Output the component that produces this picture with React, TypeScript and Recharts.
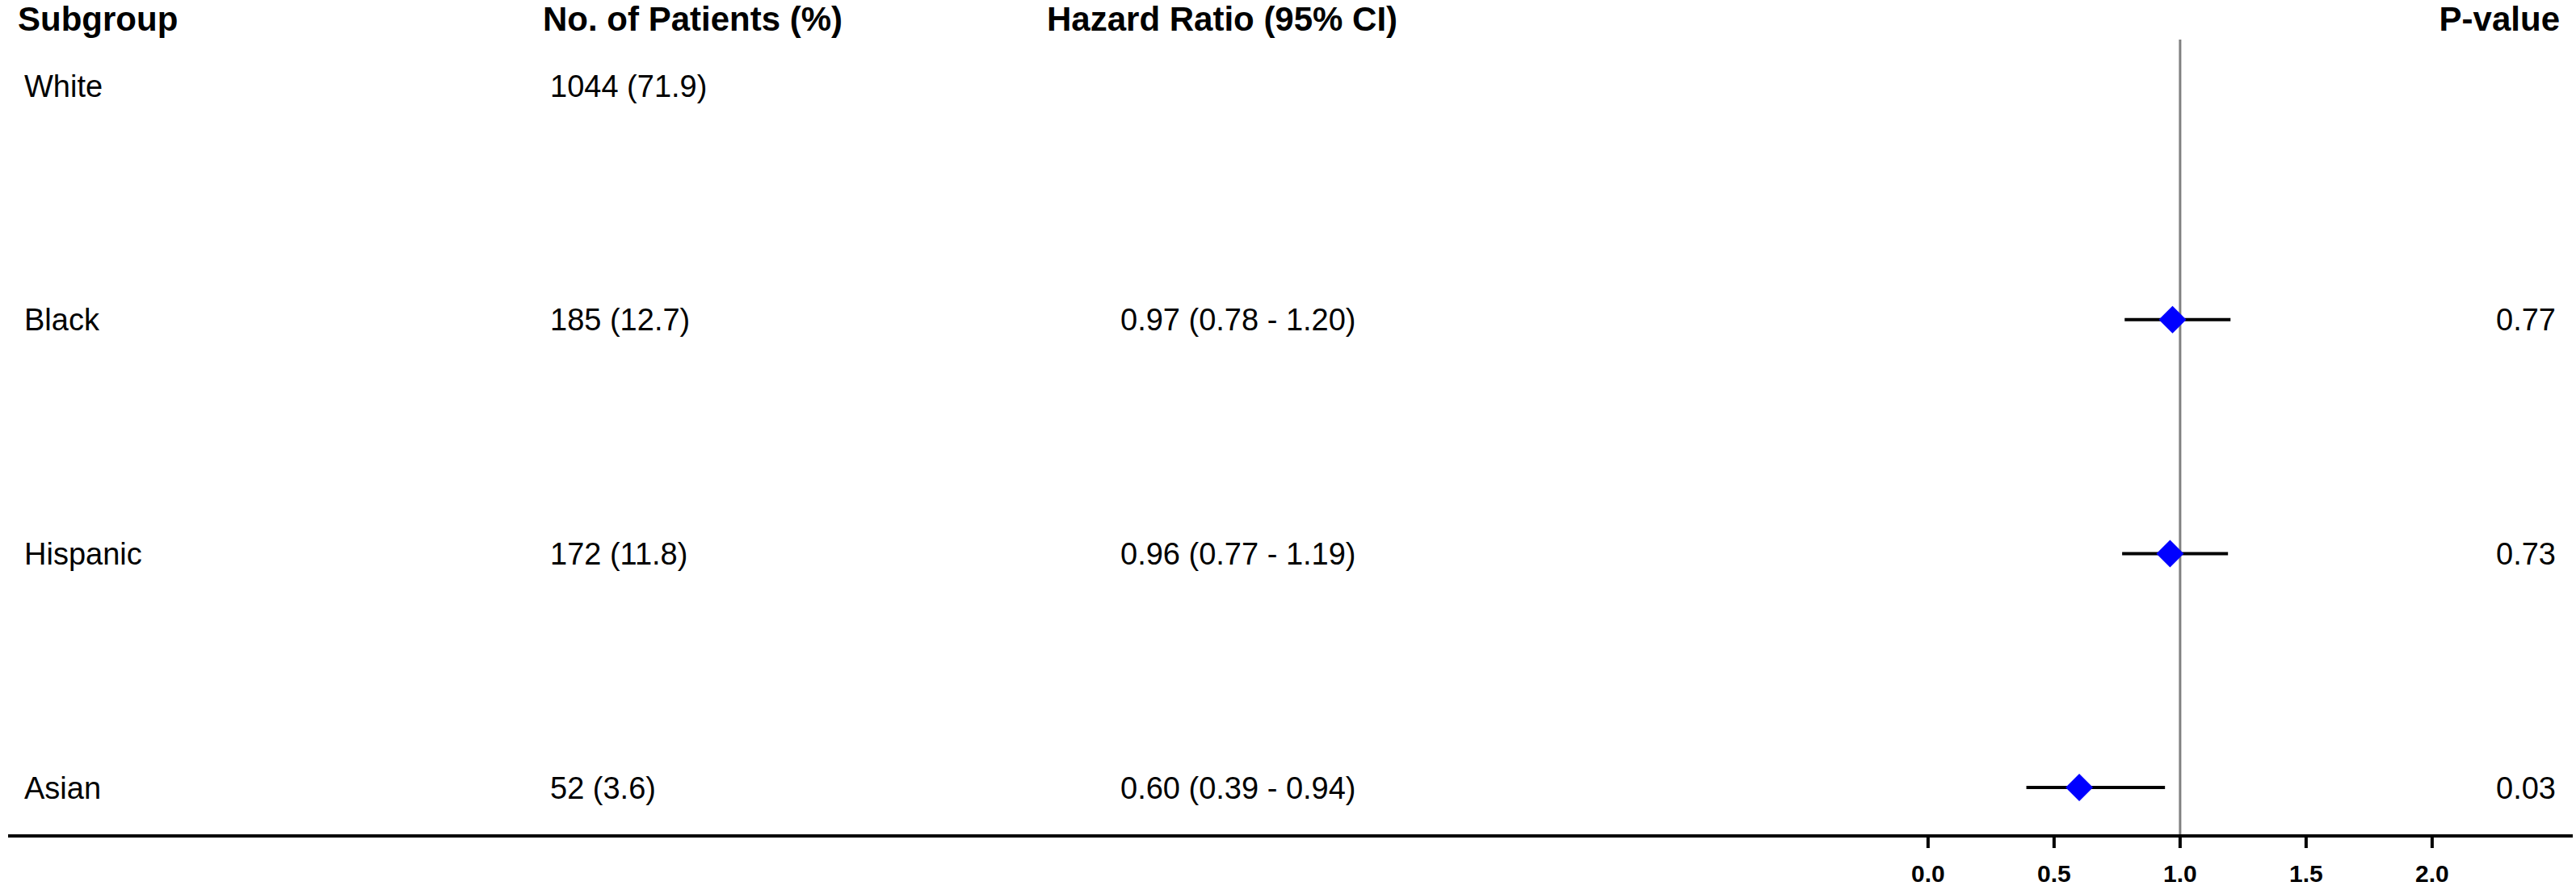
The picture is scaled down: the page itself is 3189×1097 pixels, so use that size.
import {
  ErrorBar,
  ReferenceLine,
  Scatter,
  ScatterChart,
  XAxis,
  YAxis,
} from "recharts";

const subgroups = ["White", "Black", "Hispanic", "Asian"];
const patientCounts = [1044, 185, 172, 52];
const patientPct = [71.9, 12.7, 11.8, 3.6];
const hazardRatios: (number | null)[] = [null, 0.97, 0.96, 0.6];
const ciLow: (number | null)[] = [null, 0.78, 0.77, 0.39];
const ciHigh: (number | null)[] = [null, 1.2, 1.19, 0.94];
const pValues: (string | null)[] = [null, "0.77", "0.73", "0.03"];
const rowTicks = [0, 1, 2, 3];
const xTicks = [0, 0.5, 1, 1.5, 2];
const headers = ["Subgroup", "No. of Patients (%)", "Hazard Ratio (95% CI)", "P-value"];

const W = 3189;
const H = 1097;
const FONT = "Arial, 'Liberation Sans', sans-serif";
// pixel columns for the table text
const COL_LABEL = 30;
const COL_PATIENTS = 681;
const COL_HR = 1387;
const COL_P_END = 3164;

const points = hazardRatios
  .map((hr, i) =>
    hr == null
      ? null
      : {
          row: i,
          hr,
          err: [hr - (ciLow[i] as number), (ciHigh[i] as number) - hr],
        }
  )
  .filter(Boolean);

function fmtHr(i: number) {
  const hr = hazardRatios[i];
  if (hr == null) return "";
  return `${hr.toFixed(2)} (${(ciLow[i] as number).toFixed(2)} - ${(ciHigh[i] as number).toFixed(2)})`;
}

function renderRowTick(props: any) {
  const { y, payload } = props;
  const i = Math.round(payload.value as number);
  const common = { y, dy: "0.355em", fontSize: 38, fill: "#000", fontFamily: FONT };
  return (
    <g key={`row-${i}`}>
      <text x={COL_LABEL} {...common}>{subgroups[i]}</text>
      <text x={COL_PATIENTS} {...common}>
        {`${patientCounts[i]} (${patientPct[i].toFixed(1)})`}
      </text>
      <text x={COL_HR} {...common}>{fmtHr(i)}</text>
      <text x={COL_P_END} textAnchor="end" {...common}>{pValues[i] ?? ""}</text>
    </g>
  );
}

function Diamond(props: any) {
  const { cx, cy } = props;
  const s = 17;
  return (
    <polygon
      points={`${cx},${cy - s} ${cx + s},${cy} ${cx},${cy + s} ${cx - s},${cy}`}
      fill="#0000FF"
    />
  );
}

export default function App() {
  return (
    <div style={{ position: "relative", width: W, height: H, fontFamily: FONT }}>
      <style>{"body{margin:0}"}</style>
      <ScatterChart
        width={W}
        height={H}
        margin={{ top: 49, right: 4, bottom: 0, left: 9 }}
      >
        <XAxis
          type="number"
          dataKey="hr"
          domain={[-7.618, 2.558]}
          allowDataOverflow
          ticks={xTicks}
          interval={0}
          height={62}
          tickSize={15}
          tickMargin={21}
          axisLine={{ stroke: "#000", strokeWidth: 4 }}
          tickLine={{ stroke: "#000", strokeWidth: 4 }}
          tick={{ fill: "#000", fontSize: 30, fontWeight: "bold", fontFamily: FONT }}
          tickFormatter={(v: number) => v.toFixed(1)}
        />
        <YAxis
          type="number"
          dataKey="row"
          domain={[-0.197, 3.207]}
          allowDataOverflow
          reversed
          width={1}
          ticks={rowTicks}
          interval={0}
          axisLine={false}
          tickLine={false}
          tick={renderRowTick}
        />
        <Scatter data={points as any[]} shape={<Diamond />} isAnimationActive={false}>
          <ErrorBar
            dataKey="err"
            direction="x"
            width={0}
            stroke="#000"
            strokeWidth={4}
            isAnimationActive={false}
          />
        </Scatter>
        <ReferenceLine x={1} stroke="#808080" strokeWidth={3} />
      </ScatterChart>
      <svg
        width={W}
        height={60}
        style={{ position: "absolute", left: 0, top: 0, pointerEvents: "none" }}
      >
        <g fontFamily={FONT} fontSize={42} fontWeight="bold" fill="#000">
          <text x={22} y={38}>{headers[0]}</text>
          <text x={672} y={38}>{headers[1]}</text>
          <text x={1296} y={38}>{headers[2]}</text>
          <text x={3169} y={38} textAnchor="end">{headers[3]}</text>
        </g>
      </svg>
    </div>
  );
}
